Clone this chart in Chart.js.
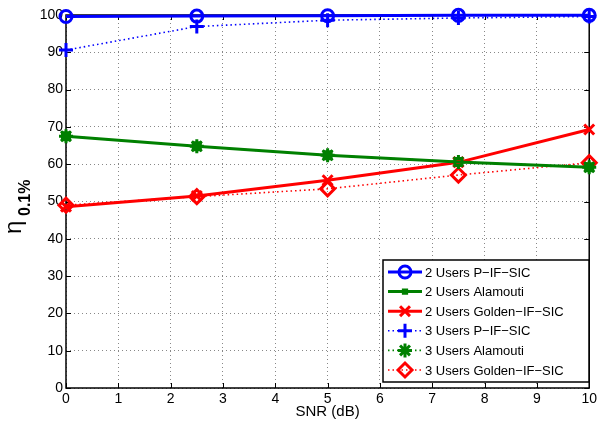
<!DOCTYPE html>
<html>
<head>
<meta charset="utf-8">
<script src="https://cdn.jsdelivr.net/npm/chart.js@4.4.0/dist/chart.umd.min.js"></script>
<style>
  html, body { margin: 0; padding: 0; background: #fff; }
  #wrap { width: 600px; height: 421px; }
</style>
</head>
<body>
<div id="wrap"><canvas id="c" width="600" height="421"></canvas></div>
<script>
// valores
const snr = [0, 2.5, 5, 7.5, 10];
const xTicks = [0, 1, 2, 3, 4, 5, 6, 7, 8, 9, 10];
const yTicks = [0, 10, 20, 30, 40, 50, 60, 70, 80, 90, 100];

const pifsic2 = [99.6, 99.7, 99.8, 99.9, 99.9];
const alamouti2 = [67.5, 64.8, 62.4, 60.6, 59.2];
const golden2 = [48.6, 51.5, 55.7, 60.5, 69.3];
const pifsic3 = [90.6, 96.9, 98.6, 99.2, 99.6];
const alamouti3 = [67.5, 64.8, 62.4, 60.6, 59.2];
const golden3 = [49.0, 51.3, 53.4, 57.1, 60.4];

const labels = [
  "2 Users P\u2212IF\u2212SIC",
  "2 Users Alamouti",
  "2 Users Golden\u2212IF\u2212SIC",
  "3 Users P\u2212IF\u2212SIC",
  "3 Users Alamouti",
  "3 Users Golden\u2212IF\u2212SIC"
];

const FONT = "'Liberation Sans', Arial, sans-serif";
const BLUE = "#0000ff", GREEN = "#008000", RED = "#ff0000";
const NONE = "rgba(0,0,0,0)";

const pts = arr => arr.map((v, i) => ({ x: snr[i], y: v }));

function serie(label, data, color, style, dotted, radius) {
  return {
    label: label,
    data: pts(data),
    borderColor: color,
    backgroundColor: NONE,
    borderWidth: dotted ? 1.6 : 3,
    borderDash: dotted ? [1.5, 3] : [],
    pointStyle: style,
    pointRadius: radius,
    pointBorderColor: color,
    pointBackgroundColor: NONE,
    pointBorderWidth: 3,
    tension: 0,
    fill: false
  };
}

/* --- marco, ticks internos, leyenda y titulo del eje Y --- */
const extras = {
  id: "extras",
  beforeDatasetsDraw(chart) {
    const { ctx, chartArea: a, scales } = chart;
    ctx.save();
    ctx.strokeStyle = "#000";
    ctx.lineWidth = 1;
    xTicks.forEach(t => {
      const px = Math.round(scales.x.getPixelForValue(t)) + 0.5;
      ctx.beginPath();
      ctx.moveTo(px, a.bottom); ctx.lineTo(px, a.bottom - 5);
      ctx.moveTo(px, a.top); ctx.lineTo(px, a.top + 5);
      ctx.stroke();
    });
    yTicks.forEach(t => {
      const py = Math.round(scales.y.getPixelForValue(t)) + 0.5;
      ctx.beginPath();
      ctx.moveTo(a.left, py); ctx.lineTo(a.left + 5, py);
      ctx.moveTo(a.right, py); ctx.lineTo(a.right - 5, py);
      ctx.stroke();
    });
    ctx.lineWidth = 1.5;
    ctx.strokeRect(a.left, a.top, a.right - a.left, a.bottom - a.top);
    ctx.restore();
  },
  afterDraw(chart) {
    const { ctx } = chart;
    ctx.save();
    // leyenda
    const bx = 383, by = 260, bw = 206, bh = 122;
    ctx.fillStyle = "#fff";
    ctx.fillRect(bx, by, bw, bh);
    ctx.strokeStyle = "#000";
    ctx.lineWidth = 1.5;
    ctx.strokeRect(bx, by, bw, bh);
    chart.data.datasets.forEach((ds, i) => {
      const y = by + 12 + i * 19.6;
      ctx.save();
      ctx.strokeStyle = ds.borderColor;
      ctx.fillStyle = NONE;
      ctx.lineWidth = ds.borderWidth;
      ctx.setLineDash(ds.borderDash);
      ctx.beginPath();
      ctx.moveTo(bx + 5, y); ctx.lineTo(bx + 39, y);
      ctx.stroke();
      ctx.setLineDash([]);
      ctx.lineWidth = i === 1 ? 2 : 3;
      Chart.helpers.drawPoint(ctx, { pointStyle: ds.pointStyle, radius: i === 1 ? 3 : ds.pointRadius, borderWidth: ctx.lineWidth }, bx + 22, y);
      ctx.restore();
      ctx.fillStyle = "#000";
      ctx.font = "13px " + FONT;
      ctx.textBaseline = "middle";
      ctx.fillText(ds.label, bx + 42, y + 1);
    });
    // titulo eje Y: eta con subindice
    ctx.translate(21, 234);
    ctx.rotate(-Math.PI / 2);
    ctx.fillStyle = "#000";
    ctx.textBaseline = "alphabetic";
    ctx.font = "24px " + FONT;
    ctx.fillText("\u03b7", 0, 0);
    ctx.font = "bold 16px " + FONT;
    ctx.fillText("0.1%", 18, 9);
    ctx.restore();
  }
};

new Chart(document.getElementById("c"), {
  type: "line",
  data: {
    datasets: [
      serie(labels[0], pifsic2, BLUE, "circle", false, 6),
      serie(labels[1], alamouti2, GREEN, "rect", false, 5),
      serie(labels[2], golden2, RED, "crossRot", false, 7),
      serie(labels[3], pifsic3, BLUE, "cross", true, 7),
      serie(labels[4], alamouti3, GREEN, "star", true, 7),
      serie(labels[5], golden3, RED, "rectRot", true, 7)
    ]
  },
  options: {
    responsive: false,
    animation: false,
    clip: false,
    layout: { padding: { top: 15, right: 8, left: 0, bottom: 0 } },
    plugins: { legend: { display: false }, tooltip: { enabled: false } },
    scales: {
      x: {
        type: "linear",
        min: 0, max: 10,
        afterFit(s) { s.height = 33; },
        afterBuildTicks(s) { s.ticks = xTicks.map(v => ({ value: v })); },
        grid: { color: "#888", lineWidth: 1, drawTicks: false },
        border: { display: false, dash: [1, 3] },
        ticks: { color: "#000", font: { family: FONT, size: 14 }, padding: 3, maxRotation: 0 },
        title: { display: true, text: "SNR (dB)", color: "#000", font: { family: FONT, size: 15 }, padding: { top: -3, bottom: 0 } }
      },
      y: {
        type: "linear",
        min: 0, max: 100,
        afterFit(s) { s.width = 66; },
        afterBuildTicks(s) { s.ticks = yTicks.map(v => ({ value: v })); },
        grid: { color: "#888", lineWidth: 1, drawTicks: false },
        border: { display: false, dash: [1, 3] },
        ticks: { color: "#000", font: { family: FONT, size: 14 }, padding: 3 }
      }
    }
  },
  plugins: [extras]
});
</script>
</body>
</html>
